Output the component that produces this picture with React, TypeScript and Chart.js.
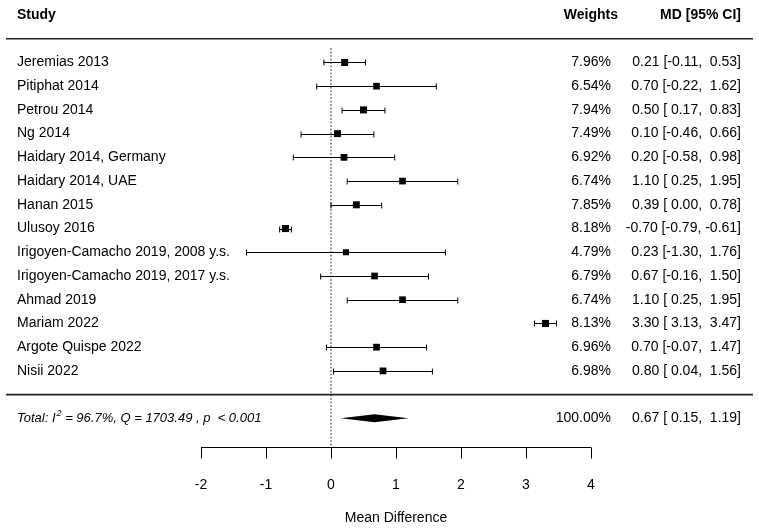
import React, { useEffect, useRef } from "react";
import { Chart, registerables } from "chart.js";

Chart.register(...registerables);

const studies = [
  "Jeremias 2013",
  "Pitiphat 2014",
  "Petrou 2014",
  "Ng 2014",
  "Haidary 2014, Germany",
  "Haidary 2014, UAE",
  "Hanan 2015",
  "Ulusoy 2016",
  "Irigoyen-Camacho 2019, 2008 y.s.",
  "Irigoyen-Camacho 2019, 2017 y.s.",
  "Ahmad 2019",
  "Mariam 2022",
  "Argote Quispe 2022",
  "Nisii 2022",
];
const weights = [7.96, 6.54, 7.94, 7.49, 6.92, 6.74, 7.85, 8.18, 4.79, 6.79, 6.74, 8.13, 6.96, 6.98];
const md = [0.21, 0.7, 0.5, 0.1, 0.2, 1.1, 0.39, -0.7, 0.23, 0.67, 1.1, 3.3, 0.7, 0.8];
const lower = [-0.11, -0.22, 0.17, -0.46, -0.58, 0.25, 0.0, -0.79, -1.3, -0.16, 0.25, 3.13, -0.07, 0.04];
const upper = [0.53, 1.62, 0.83, 0.66, 0.98, 1.95, 0.78, -0.61, 1.76, 1.5, 1.95, 3.47, 1.47, 1.56];
const totalMd = 0.67;
const totalLower = 0.15;
const totalUpper = 1.19;
const totalWeight = 100.0;
const xTicks = [-2, -1, 0, 1, 2, 3, 4];

const FONT = "'Liberation Sans', Arial, sans-serif";
const TOTAL_ROW = 15;

const pad = (v: number) => (v >= 0 ? " " + v.toFixed(2) : v.toFixed(2));
const ciText = (m: number, l: number, u: number) => `${m.toFixed(2)} [${pad(l)}, ${pad(u)}]`;

const forestPlugin = {
  id: "forest",
  beforeDatasetsDraw(chart: any) {
    const { ctx, scales } = chart;
    const x = scales.x;
    const y = scales.y;
    ctx.save();
    // reference dotted line at 0
    ctx.strokeStyle = "#333";
    ctx.lineWidth = 1.2;
    ctx.setLineDash([1.5, 2]);
    ctx.beginPath();
    ctx.moveTo(x.getPixelForValue(0), y.getPixelForValue(-0.6));
    ctx.lineTo(x.getPixelForValue(0), y.getPixelForValue(16.2));
    ctx.stroke();
    ctx.setLineDash([]);
    // CI whiskers
    ctx.strokeStyle = "#000";
    ctx.lineWidth = 1;
    for (let i = 0; i < md.length; i++) {
      const py = Math.round(y.getPixelForValue(i)) + 0.5;
      const x1 = x.getPixelForValue(lower[i]);
      const x2 = x.getPixelForValue(upper[i]);
      ctx.beginPath();
      ctx.moveTo(x1, py);
      ctx.lineTo(x2, py);
      ctx.moveTo(x1, py - 3);
      ctx.lineTo(x1, py + 3);
      ctx.moveTo(x2, py - 3);
      ctx.lineTo(x2, py + 3);
      ctx.stroke();
    }
    ctx.restore();
  },
  afterDatasetsDraw(chart: any) {
    const { ctx, scales } = chart;
    const x = scales.x;
    const y = scales.y;
    ctx.save();
    // separator lines
    ctx.strokeStyle = "#222";
    ctx.lineWidth = 1.6;
    [-1, 14].forEach((r) => {
      const py = y.getPixelForValue(r);
      ctx.beginPath();
      ctx.moveTo(6, py);
      ctx.lineTo(753, py);
      ctx.stroke();
    });
    // summary diamond
    const dy = y.getPixelForValue(TOTAL_ROW);
    ctx.fillStyle = "#000";
    ctx.beginPath();
    ctx.moveTo(x.getPixelForValue(totalLower), dy);
    ctx.lineTo(x.getPixelForValue(totalMd), dy - 4);
    ctx.lineTo(x.getPixelForValue(totalUpper), dy);
    ctx.lineTo(x.getPixelForValue(totalMd), dy + 4);
    ctx.closePath();
    ctx.fill();
    // headers
    ctx.fillStyle = "#000";
    ctx.textBaseline = "middle";
    ctx.font = `bold 14px ${FONT}`;
    const hy = y.getPixelForValue(-2);
    ctx.textAlign = "left";
    ctx.fillText("Study", 17, hy);
    ctx.textAlign = "right";
    ctx.fillText("Weights", 618, hy);
    ctx.fillText("MD [95% CI]", 741, hy);
    // rows
    ctx.font = `14px ${FONT}`;
    for (let i = 0; i < studies.length; i++) {
      const py = y.getPixelForValue(i);
      ctx.textAlign = "left";
      ctx.fillText(studies[i], 17, py);
      ctx.textAlign = "right";
      ctx.fillText(weights[i].toFixed(2) + "%", 611, py);
      ctx.fillText(ciText(md[i], lower[i], upper[i]), 741, py);
    }
    // total row
    ctx.textAlign = "right";
    ctx.fillText(totalWeight.toFixed(2) + "%", 611, dy);
    ctx.fillText(ciText(totalMd, totalLower, totalUpper), 741, dy);
    ctx.textAlign = "left";
    ctx.font = `italic 13px ${FONT}`;
    let tx = 17;
    const part1 = "Total: I";
    ctx.fillText(part1, tx, dy);
    tx += ctx.measureText(part1).width + 1;
    ctx.font = `italic 9px ${FONT}`;
    ctx.fillText("2", tx, dy - 5);
    tx += ctx.measureText("2").width;
    ctx.font = `italic 13px ${FONT}`;
    ctx.fillText(" = 96.7%, Q = 1703.49 , p  < 0.001", tx, dy);
    // x axis
    const ay = Math.round(y.getPixelForValue(16.2)) + 0.5;
    ctx.strokeStyle = "#000";
    ctx.lineWidth = 1;
    ctx.beginPath();
    ctx.moveTo(x.getPixelForValue(xTicks[0]), ay);
    ctx.lineTo(x.getPixelForValue(xTicks[xTicks.length - 1]), ay);
    xTicks.forEach((t) => {
      const px = Math.round(x.getPixelForValue(t)) + 0.5;
      ctx.moveTo(px, ay);
      ctx.lineTo(px, ay + 11);
    });
    ctx.stroke();
    ctx.font = `14px ${FONT}`;
    ctx.textAlign = "center";
    const ly = y.getPixelForValue(17.82);
    xTicks.forEach((t) => {
      ctx.fillText(String(t), x.getPixelForValue(t), ly);
    });
    ctx.fillText("Mean Difference", (x.left + x.right) / 2, y.getPixelForValue(19.2));
    ctx.restore();
  },
};

export default function App() {
  const ref = useRef<HTMLCanvasElement>(null);
  useEffect(() => {
    if (!ref.current) return;
    const chart = new Chart(ref.current, {
      type: "scatter",
      data: {
        datasets: [
          {
            data: md.map((v, i) => ({ x: v, y: i })),
            pointStyle: "rect",
            pointRadius: weights.map((w) => 5 * Math.pow(w / 8.18, 0.3)),
            backgroundColor: "#000",
            borderColor: "#000",
            borderWidth: 0,
          },
        ],
      },
      options: {
        animation: false,
        responsive: false,
        maintainAspectRatio: false,
        layout: { padding: { left: 201, right: 168, top: 15, bottom: 11 } },
        plugins: { legend: { display: false }, tooltip: { enabled: false } },
        scales: {
          x: { type: "linear", min: -2, max: 4, display: false },
          y: { type: "linear", min: -2, max: 19.2, reverse: true, display: false },
        },
      },
      plugins: [forestPlugin],
    });
    return () => chart.destroy();
  }, []);
  return (
    <div style={{ position: "fixed", left: 0, top: 0, width: 759, height: 529, background: "#fff" }}>
      <canvas ref={ref} width={759} height={529} style={{ width: 759, height: 529 }} />
    </div>
  );
}
